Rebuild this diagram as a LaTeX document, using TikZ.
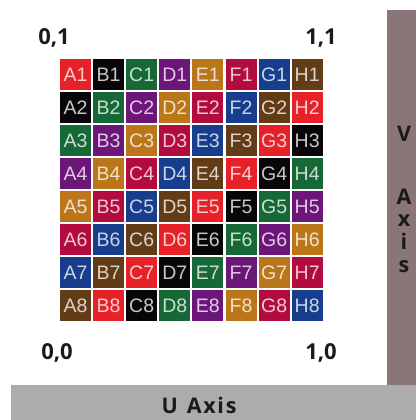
\documentclass[tikz,border=0pt]{standalone}
\usepackage{fontspec}
\setmainfont{Liberation Sans}
\newfontfamily\labelfont{Open Sans}
\newfontfamily\spacedfont[LetterSpace=8]{Open Sans}
\usetikzlibrary{positioning}
% tile palette, cycled along the diagonals
\definecolor{tc0}{RGB}{230,34,40}
\definecolor{tc1}{RGB}{8,6,8}
\definecolor{tc2}{RGB}{22,104,54}
\definecolor{tc3}{RGB}{108,22,122}
\definecolor{tc4}{RGB}{186,118,24}
\definecolor{tc5}{RGB}{178,12,62}
\definecolor{tc6}{RGB}{22,62,140}
\definecolor{tc7}{RGB}{98,60,22}
\definecolor{vbarcol}{RGB}{138,118,118}
\definecolor{ubarcol}{RGB}{172,172,172}
\definecolor{inkcol}{RGB}{26,26,26}
\tikzset{tile/.style={minimum width=31pt, minimum height=31pt, inner sep=0pt, font=\fontsize{19.5}{19.5}\selectfont},
  cornerlbl/.style={inner sep=0pt, text=inkcol, font=\labelfont\bfseries\fontsize{22}{22}\selectfont},
  axislbl/.style={inner sep=0pt, text=inkcol, font=\spacedfont\bfseries\fontsize{21.5}{21.5}\selectfont}}

\begin{document}
\begin{tikzpicture}[x=1pt, y=-1pt]
\useasboundingbox (0,0) rectangle (416,420);
% axis bars
\fill[vbarcol] (387,10) rectangle (416,385);
\fill[ubarcol] (11,385) rectangle (416,420);
% texture tiles
\foreach \row in {1,...,8}
  \foreach \col [count=\ci from 0] in {A,B,C,D,E,F,G,H} {
    \pgfmathtruncatemacro\k{mod(\ci+\row-1,8)}
    \colorlet{tilefill}{tc\k}
    \node[tile, fill=tilefill, text=tilefill!22!white] (\col\row) at ({75.5+33.1*\ci},{74.5+33*(\row-1)}) {\col\row};
  }
% corner coordinates
\node[cornerlbl] (c01) at (54,38) {0,1};
\node[cornerlbl] (c11) at (321,38) {1,1};
\node[cornerlbl] (c00) at (57,353) {0,0};
\node[cornerlbl] (c10) at (321,353) {1,0};
% axis names
\node[axislbl] (uaxis) at (199,405) {U\hspace{9pt}Axis};
\foreach \ch/\yy in {V/141,A/204,x/226,i/249,s/272}
  \node[axislbl, anchor=base] at (404,\yy) {\ch};
\end{tikzpicture}
\end{document}
